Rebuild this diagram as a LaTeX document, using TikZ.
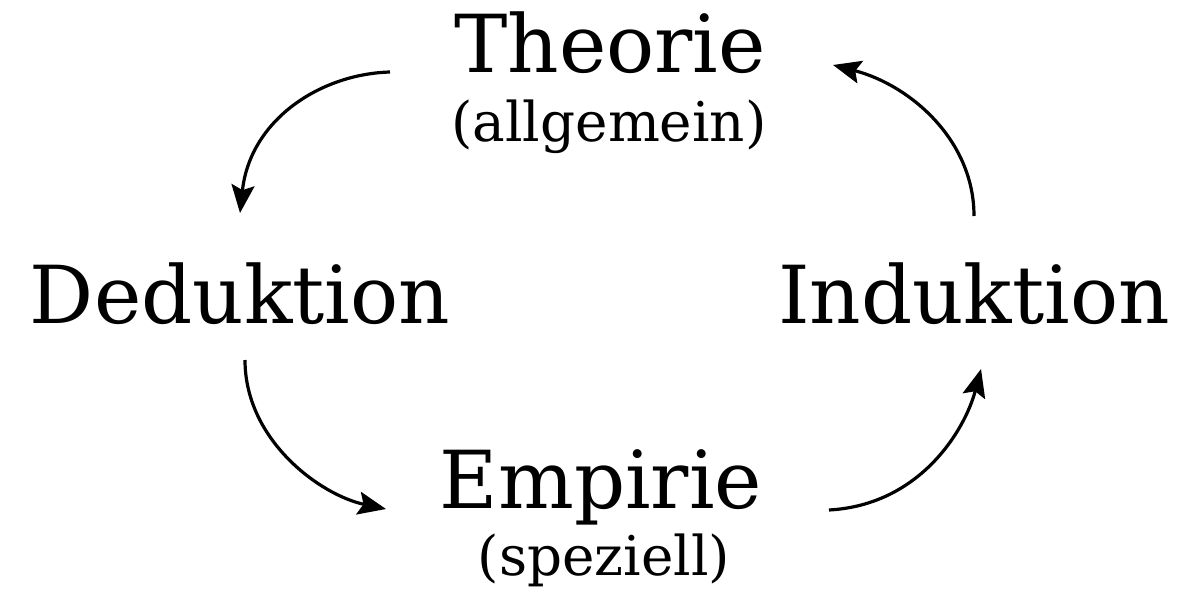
\documentclass[tikz,border=0pt]{standalone}
\usepackage{fontspec}
\setmainfont{DejaVu Serif}
\usetikzlibrary{arrows.meta}
\tikzset{
  big/.style={inner sep=0pt, anchor=base, font=\fontsize{40}{48}\selectfont},
  small/.style={inner sep=0pt, anchor=base, font=\fontsize{27.4}{33}\selectfont},
  cyc/.style={line width=1.6pt, -{Stealth[length=14pt,width=11.5pt,inset=2.5pt]}}
}
\begin{document}
\begin{tikzpicture}[x=0.5pt,y=-0.5pt]
\useasboundingbox[fill=white] (0,0) rectangle (1200,600);
\node[big] (theo) at (610,72) {Theorie};
\node[small] (allg) at (609,141) {(allgemein)};
\node[big] (ded) at (240,323) {Deduktion};
\node[big] (ind) at (974,323) {Induktion};
\node[big] (emp) at (601,508) {Empirie};
\node[small] (spez) at (604,575) {(speziell)};
\coordinate (a1) at (390,72);  \coordinate (b1) at (240,213);
\coordinate (a2) at (974,216); \coordinate (b2) at (833,65);
\coordinate (a3) at (245,360); \coordinate (b3) at (386,509);
\coordinate (a4) at (829,510); \coordinate (b4) at (981,369);
\draw[cyc] (a1) .. controls (320,74) and (250,120) .. (b1);
\draw[cyc] (a2) .. controls (974,140) and (910,85) .. (b2);
\draw[cyc] (a3) .. controls (245,440) and (320,495) .. (b3);
\draw[cyc] (a4) .. controls (920,505) and (965,430) .. (b4);
\end{tikzpicture}
\end{document}
